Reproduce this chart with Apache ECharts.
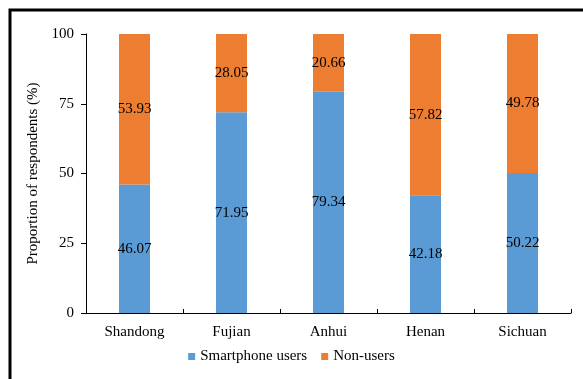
<!DOCTYPE html>
<html><head><meta charset="utf-8">
<script src="https://cdn.jsdelivr.net/npm/echarts@6/dist/echarts.min.js"></script>
<style>html,body{margin:0;padding:0;background:#fff}#c{width:583px;height:379px}</style>
</head><body><div id="c"></div>
<script>
var categories = ['Shandong','Fujian','Anhui','Henan','Sichuan'];
var users = [46.07, 71.95, 79.34, 42.18, 50.22];
var nonUsers = [53.93, 28.05, 20.66, 57.82, 49.78];
var yTicks = [0, 25, 50, 75, 100];
var font = '"Liberation Serif", "Times New Roman", serif';
var chart = echarts.init(document.getElementById('c'), null, {renderer:'canvas'});
var lbl = {show:true, position:'inside', color:'#000', fontFamily:font, fontSize:15,
  formatter:function(p){return p.value.toFixed(2);}};
chart.setOption({
  animation:false,
  textStyle:{fontFamily:font},
  graphic:[{type:'rect', shape:{x:10,y:10,width:700,height:500},
    style:{fill:'none', stroke:'#000', lineWidth:3}, z:100}],
  grid:{left:86, right:12, top:34, bottom:66},
  legend:{bottom:10, left:'center', itemWidth:7, itemHeight:7, itemGap:14,
    icon:'rect', textStyle:{fontFamily:font, fontSize:15, color:'#000'},
    data:['Smartphone users','Non-users']},
  xAxis:{type:'category', data:categories,
    axisLine:{lineStyle:{color:'#000', width:1}},
    axisTick:{show:true, length:4, inside:true, alignWithLabel:false, lineStyle:{color:'#000'}},
    axisLabel:{color:'#000', fontFamily:font, fontSize:15, margin:12}},
  yAxis:{type:'value', min:0, max:100, interval:25,
    name:'Proportion of respondents (%)', nameLocation:'middle', nameGap:44,
    nameTextStyle:{color:'#000', fontFamily:font, fontSize:15},
    axisLine:{show:true, lineStyle:{color:'#000', width:1}},
    axisTick:{show:true, length:5, lineStyle:{color:'#000'}},
    splitLine:{show:false},
    axisLabel:{color:'#000', fontFamily:font, fontSize:15, margin:12,
      formatter:function(v){return yTicks.indexOf(v)>=0 ? String(v) : '';}}},
  series:[
    {name:'Smartphone users', type:'bar', stack:'a', data:users, barWidth:31,
     itemStyle:{color:'#5B9BD5'}, label:lbl},
    {name:'Non-users', type:'bar', stack:'a', data:nonUsers, barWidth:31,
     itemStyle:{color:'#ED7D31'}, label:lbl}
  ]
});
</script></body></html>
